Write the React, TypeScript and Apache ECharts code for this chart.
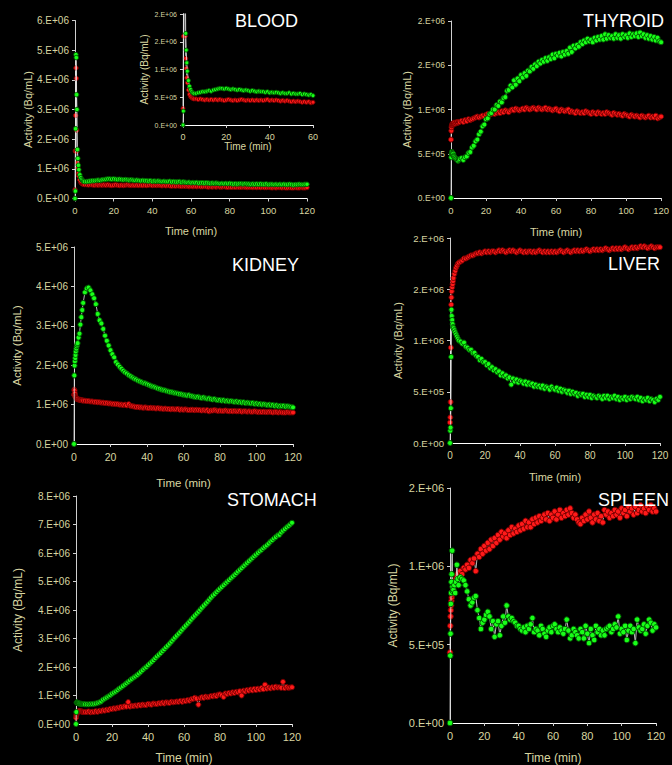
import React, { useEffect, useRef } from "react";
import * as echarts from "echarts";

// Frame mid-times (min)
const TIME_MIN = [
  0, 0.17, 0.33, 0.5, 0.67, 0.83, 1, 1.25, 1.5, 1.75, 2, 2.5, 3, 3.5, 4, 4.5, 5,
  6, 7, 8, 9, 10, 11, 12, 13, 14, 15,
  16, 17, 18, 19, 20, 21, 22, 23, 24, 25,
  26, 27, 28, 29, 30, 31, 32, 33, 34, 35,
  36, 37, 38, 39, 40, 41, 42, 43, 44, 45,
  46, 47, 48, 49, 50, 51, 52, 53, 54, 55,
  56, 57, 58, 59, 60, 61, 62, 63, 64, 65,
  66, 67, 68, 69, 70, 71, 72, 73, 74, 75,
  76, 77, 78, 79, 80, 81, 82, 83, 84, 85,
  86, 87, 88, 89, 90, 91, 92, 93, 94, 95,
  96, 97, 98, 99, 100, 101, 102, 103, 104, 105,
  106, 107, 108, 109, 110, 111, 112, 113, 114, 115,
  116, 117, 118, 119, 120,
];

// Activity values in units of 1e4 Bq/mL
const BLOOD_GREEN = [
  0, 25, 235, 485, 475, 350, 300, 165, 135, 112, 97, 80, 70, 64, 60, 58, 57,
  57, 58, 59, 60, 60, 61, 62, 61, 63, 64,
  65, 66, 66, 65, 66, 65, 64, 65, 64, 63,
  64, 63, 62, 63, 62, 61, 62, 61, 60, 61,
  60, 60, 59, 60, 58, 59, 58, 59, 58, 57,
  58, 57, 57, 58, 56, 57, 56, 56, 57, 55,
  56, 55, 54, 55, 53, 54, 53, 54, 52, 53,
  53, 52, 53, 52, 51, 52, 51, 52, 51, 50,
  51, 50, 51, 50, 51, 50, 49, 50, 49, 50,
  50, 49, 50, 49, 49, 48, 49, 48, 49, 48,
  49, 48, 48, 49, 47, 48, 48, 47, 48, 47,
  48, 47, 48, 47, 47, 48, 47, 46, 47, 47,
  48, 47, 47, 48, 48,
];
const BLOOD_RED = [
  30, 160, 280, 440, 405, 230, 160, 120, 102, 85, 76, 63, 55, 51, 49, 48, 47,
  47, 46, 47, 46, 45, 46, 45, 46, 45, 46,
  45, 46, 45, 44, 45, 46, 45, 44, 45, 44,
  45, 46, 45, 44, 45, 44, 45, 44, 45, 44,
  45, 44, 45, 46, 44, 45, 44, 45, 44, 43,
  44, 43, 44, 43, 42, 43, 42, 43, 42, 41,
  42, 41, 42, 40, 41, 40, 41, 40, 41, 40,
  40, 41, 40, 39, 40, 39, 40, 39, 40, 39,
  39, 40, 39, 38, 39, 38, 39, 38, 39, 38,
  38, 39, 38, 37, 38, 38, 37, 38, 37, 38,
  37, 38, 37, 37, 38, 37, 36, 37, 36, 37,
  37, 36, 37, 36, 36, 37, 36, 36, 37, 36,
  36, 37, 36, 36, 37,
];
const THYROID_GREEN = [
  0, 46, 50, 52, 51, 50, 49, 50, 48, 47, 46, 45, 44, 43, 42, 43, 44,
  45, 43, 46, 47, 51, 52, 57, 59, 64, 66,
  72, 75, 81, 83, 89, 90, 95, 96, 100, 100,
  105, 104, 109, 108, 113, 114, 121, 122, 127, 125,
  133, 128, 135, 132, 139, 136, 141, 138, 144, 143,
  148, 146, 151, 149, 154, 152, 156, 154, 158, 155,
  159, 157, 162, 158, 163, 161, 164, 160, 165, 162,
  166, 163, 170, 165, 172, 169, 173, 171, 176, 174,
  178, 176, 180, 177, 179, 176, 181, 178, 182, 179,
  183, 179, 185, 180, 184, 181, 183, 180, 185, 181,
  184, 180, 185, 182, 184, 181, 186, 182, 185, 183,
  186, 182, 187, 183, 185, 181, 184, 180, 183, 179,
  182, 178, 181, 177, 176,
];
const THYROID_RED = [
  66, 76, 80, 82, 83, 84, 83, 84, 85, 84, 85, 84, 85, 86, 85, 86, 86,
  87, 86, 88, 87, 89, 88, 89, 90, 91, 92,
  91, 92, 93, 92, 94, 95, 94, 95, 96, 95,
  96, 97, 96, 98, 97, 99, 98, 97, 99, 100,
  99, 101, 100, 99, 100, 101, 100, 102, 101, 100,
  101, 102, 101, 100, 102, 101, 100, 101, 102, 100,
  101, 100, 99, 100, 101, 99, 98, 100, 99, 98,
  99, 100, 97, 98, 97, 96, 98, 97, 96, 97,
  96, 98, 97, 96, 95, 97, 96, 95, 97, 96,
  95, 96, 95, 97, 96, 95, 94, 96, 95, 94,
  95, 94, 93, 95, 94, 93, 92, 94, 93, 92,
  93, 92, 91, 93, 92, 91, 92, 93, 91, 92,
  91, 93, 90, 91, 92,
];
const KIDNEY_GREEN = [
  0, 174, 199, 210, 218, 226, 235, 242, 248, 252, 256, 270, 280, 303, 322, 340, 358,
  385, 395, 397, 390, 380, 370, 355, 330, 314, 306,
  292, 275, 262, 250, 238, 228, 220, 208, 202, 196,
  191, 186, 182, 179, 175, 172, 169, 166, 164, 161,
  159, 157, 155, 154, 152, 150, 148, 146, 145, 143,
  141, 140, 138, 137, 136, 134, 133, 132, 131, 130,
  129, 128, 127, 126, 125, 124, 123, 124, 122, 121,
  120, 119, 120, 118, 117, 118, 116, 115, 116, 114,
  113, 114, 112, 111, 112, 110, 111, 109, 110, 108,
  109, 108, 107, 108, 106, 107, 105, 106, 104, 105,
  104, 103, 104, 102, 103, 101, 102, 100, 101, 100,
  99, 100, 98, 99, 97, 98, 96, 97, 96, 97,
  95, 96, 95, 94, 93,
];
const KIDNEY_RED = [
  125, 138, 135, 128, 122, 119, 118, 116, 115, 114, 114, 113, 112, 112, 111, 111, 110,
  110, 109, 109, 108, 108, 107, 107, 106, 106, 105,
  105, 104, 104, 103, 103, 102, 102, 101, 101, 100,
  100, 99, 100, 98, 101, 97, 96, 95, 94, 94,
  93, 93, 92, 93, 92, 91, 92, 91, 91, 90,
  91, 90, 90, 89, 90, 89, 89, 88, 89, 88,
  88, 89, 87, 88, 87, 88, 87, 86, 87, 87,
  86, 87, 86, 86, 85, 86, 85, 86, 83, 85,
  85, 86, 85, 84, 85, 84, 84, 85, 84, 83,
  84, 83, 84, 83, 83, 84, 82, 83, 83, 82,
  83, 82, 82, 83, 82, 81, 82, 81, 82, 81,
  81, 82, 81, 80, 81, 81, 80, 81, 80, 80,
  80, 81, 80, 80, 80,
];
const LIVER_GREEN = [
  0, 12, 15, 34, 84, 130, 124, 120, 116, 113, 112, 110, 108, 106, 104, 102, 100,
  99, 97, 98, 94, 93, 91, 91, 88, 88, 85,
  84, 81, 82, 79, 79, 76, 77, 73, 74, 71,
  72, 69, 70, 66, 68, 65, 66, 63, 64, 57,
  63, 60, 62, 59, 61, 60, 58, 60, 57, 59,
  57, 58, 55, 57, 55, 56, 54, 56, 53, 55,
  54, 52, 55, 53, 52, 54, 51, 53, 50, 52,
  51, 49, 51, 48, 50, 48, 49, 46, 48, 47,
  48, 45, 47, 45, 47, 44, 46, 45, 44, 46,
  45, 43, 46, 44, 46, 43, 45, 44, 46, 43,
  45, 42, 44, 43, 45, 42, 44, 43, 45, 44,
  43, 45, 42, 44, 41, 43, 42, 44, 41, 43,
  42, 40, 43, 42, 45,
];
const LIVER_RED = [
  20, 25, 40, 93, 135, 142, 148, 152, 155, 158, 161, 165, 168, 171, 173, 175, 176,
  177, 178, 180, 180, 181, 182, 183, 183, 184, 185,
  185, 186, 185, 186, 187, 186, 187, 186, 187, 187,
  186, 187, 188, 187, 188, 187, 186, 187, 188, 187,
  188, 187, 186, 187, 188, 187, 186, 187, 186, 187,
  187, 186, 187, 186, 187, 188, 187, 186, 187, 186,
  187, 186, 187, 186, 187, 186, 187, 188, 187, 186,
  187, 188, 187, 186, 187, 188, 187, 188, 187, 188,
  187, 188, 189, 188, 187, 188, 189, 188, 189, 188,
  189, 188, 189, 190, 189, 188, 189, 190, 189, 190,
  189, 190, 189, 190, 191, 190, 189, 190, 191, 190,
  191, 190, 191, 192, 191, 192, 191, 190, 191, 192,
  191, 190, 191, 191, 191,
];
const STOMACH_GREEN = [
  0, 42, 75, 76, 75, 74, 74, 73, 73, 72, 72, 71, 71, 70, 70, 70, 69,
  69, 69, 70, 70, 71, 72, 74, 76, 79, 85,
  89, 93, 97, 101, 106, 110, 114, 119, 124, 128,
  133, 138, 143, 148, 153, 158, 163, 167, 172, 177,
  183, 189, 195, 200, 206, 212, 218, 224, 231, 237,
  243, 249, 256, 262, 269, 275, 282, 289, 296, 303,
  310, 317, 324, 331, 338, 345, 352, 359, 366, 373,
  380, 387, 394, 401, 408, 415, 422, 429, 436, 443,
  450, 456, 463, 469, 475, 481, 487, 493, 499, 505,
  511, 517, 523, 529, 535, 541, 547, 553, 559, 565,
  571, 577, 583, 589, 594, 600, 606, 611, 617, 622,
  627, 633, 640, 645, 651, 656, 662, 664, 672, 678,
  684, 690, 695, 700, 706,
];
const STOMACH_RED = [
  22, 30, 35, 38, 40, 42, 43, 44, 45, 45, 46, 45, 44, 43, 42, 42, 42,
  42, 44, 41, 43, 42, 45, 43, 46, 45, 48,
  47, 50, 49, 53, 52, 55, 54, 57, 57, 60,
  59, 62, 61, 77, 61, 64, 63, 65, 64, 67,
  65, 68, 67, 66, 70, 69, 68, 72, 71, 70,
  73, 72, 75, 72, 76, 75, 74, 78, 76, 77,
  79, 78, 81, 78, 82, 80, 84, 82, 87, 88,
  92, 89, 68, 91, 94, 92, 96, 94, 95, 98,
  97, 100, 98, 103, 104, 101, 95, 107, 105, 109,
  107, 111, 109, 113, 111, 115, 100, 117, 114, 119,
  117, 121, 118, 123, 119, 124, 121, 126, 122, 138,
  124, 128, 125, 129, 127, 131, 128, 129, 127, 148,
  126, 130, 127, 128, 129,
];
const SPLEEN_GREEN = [
  0, 43, 57, 76, 83, 90, 95, 110, 87, 84, 85, 88, 83, 90, 101, 92, 88,
  93, 92, 91, 88, 84, 79, 75, 77, 80, 81,
  72, 67, 60, 64, 66, 69, 71, 68, 60, 65,
  55, 63, 65, 56, 62, 68, 64, 75, 68, 66,
  67, 65, 64, 62, 62, 60, 59, 61, 58, 62,
  60, 63, 67, 58, 60, 59, 56, 62, 60, 57,
  55, 59, 61, 58, 62, 63, 60, 58, 61, 59,
  57, 60, 66, 59, 54, 56, 60, 58, 56, 54,
  60, 58, 54, 62, 57, 51, 60, 56, 53, 62,
  58, 60, 56, 59, 56, 60, 61, 62, 58, 60,
  63, 61, 68, 57, 60, 58, 62, 53, 59, 62,
  58, 60, 51, 66, 61, 59, 60, 63, 57, 62,
  66, 64, 59, 63, 61,
];
const SPLEEN_RED = [
  45, 62, 68, 72, 75, 78, 80, 82, 84, 86, 88, 90, 91, 92, 94, 95, 96,
  97, 95, 99, 98, 101, 99, 104, 102, 105, 97,
  108, 106, 111, 108, 113, 110, 115, 111, 117, 113,
  118, 115, 120, 117, 122, 119, 121, 118, 123, 120,
  125, 121, 124, 122, 126, 123, 127, 124, 129, 125,
  128, 125, 130, 127, 131, 128, 132, 129, 131, 133,
  130, 134, 129, 133, 131, 135, 130, 133, 136, 131,
  134, 132, 136, 133, 137, 134, 131, 133, 130, 128,
  127, 131, 129, 133, 130, 135, 131, 128, 133, 130,
  134, 129, 132, 128, 136, 133, 135, 131, 134, 132,
  136, 133, 135, 131, 137, 134, 136, 132, 138, 135,
  137, 133, 138, 134, 136, 139, 135, 137, 134, 138,
  136, 139, 135, 137, 135,
];

const UNIT = 1e4;

// Tick labels as printed on the original axes
const BLOOD_Y_LABELS = ["0.E+00", "1.E+06", "2.E+06", "3.E+06", "4.E+06", "5.E+06", "6.E+06"];
const HALF_Y_LABELS = ["0.E+00", "5.E+05", "1.E+06", "2.E+06", "2.E+06"];
const KIDNEY_Y_LABELS = ["0.E+00", "1.E+06", "2.E+06", "3.E+06", "4.E+06", "5.E+06"];
const STOMACH_Y_LABELS = ["0.E+00", "1.E+06", "2.E+06", "3.E+06", "4.E+06", "5.E+06", "6.E+06", "7.E+06", "8.E+06"];
const SPLEEN_Y_LABELS = ["0.E+00", "5.E+05", "1.E+06", "2.E+06"];

const TITLES = ["BLOOD", "THYROID", "KIDNEY", "LIVER", "STOMACH", "SPLEEN"];

const FONT = '"Liberation Sans", Arial, Helvetica, sans-serif';
const LABEL_COLOR = "#d8d6a0";
const AXIS_COLOR = "#cfcfcf";

type Panel = {
  grid: { left: number; top: number; width: number; height: number };
  xMax: number;
  yMax: number;
  yInt: number;
  yLabels: string[];
  green: number[];
  red: number[];
  yl: number;
  xl: number;
  nameSize: number;
  yNameGap: number;
  xNameGap: number;
  sym: number;
};

const PANELS: Panel[] = [
  { grid: { left: 75, top: 20.5, width: 232, height: 178 }, xMax: 120, yMax: 6e6, yInt: 1e6, yLabels: BLOOD_Y_LABELS, green: BLOOD_GREEN, red: BLOOD_RED, yl: 10, xl: 9.5, nameSize: 11, yNameGap: 42, xNameGap: 27, sym: 4.5 },
  { grid: { left: 183, top: 14, width: 130, height: 111 }, xMax: 60, yMax: 2e6, yInt: 5e5, yLabels: HALF_Y_LABELS, green: BLOOD_GREEN, red: BLOOD_RED, yl: 7, xl: 9, nameSize: 10, yNameGap: 34, xNameGap: 16, sym: 4 },
  { grid: { left: 451, top: 21, width: 213, height: 177 }, xMax: 120, yMax: 2e6, yInt: 5e5, yLabels: HALF_Y_LABELS, green: THYROID_GREEN, red: THYROID_RED, yl: 8.5, xl: 9.5, nameSize: 11, yNameGap: 39, xNameGap: 28, sym: 5 },
  { grid: { left: 74, top: 247, width: 219, height: 197 }, xMax: 120, yMax: 5e6, yInt: 1e6, yLabels: KIDNEY_Y_LABELS, green: KIDNEY_GREEN, red: KIDNEY_RED, yl: 10, xl: 10.5, nameSize: 11.5, yNameGap: 51, xNameGap: 33, sym: 5 },
  { grid: { left: 450, top: 238, width: 210, height: 205 }, xMax: 120, yMax: 2e6, yInt: 5e5, yLabels: HALF_Y_LABELS, green: LIVER_GREEN, red: LIVER_RED, yl: 9.6, xl: 10, nameSize: 11, yNameGap: 47, xNameGap: 28, sym: 5 },
  { grid: { left: 76, top: 496, width: 216, height: 228 }, xMax: 120, yMax: 8e6, yInt: 1e6, yLabels: STOMACH_Y_LABELS, green: STOMACH_GREEN, red: STOMACH_RED, yl: 10, xl: 11, nameSize: 12, yNameGap: 52, xNameGap: 28, sym: 5 },
  { grid: { left: 450, top: 488, width: 206, height: 236 }, xMax: 120, yMax: 1.5e6, yInt: 5e5, yLabels: SPLEEN_Y_LABELS, green: SPLEEN_GREEN, red: SPLEEN_RED, yl: 11, xl: 11, nameSize: 12, yNameGap: 51, xNameGap: 29, sym: 5.5 },
];

const TITLE_POS = [
  { x: 235, y: 21 },
  { x: 583, y: 21 },
  { x: 232, y: 265 },
  { x: 608, y: 264 },
  { x: 227, y: 500 },
  { x: 598, y: 500 },
];

function toPairs(vals: number[]) {
  const n = Math.min(vals.length, TIME_MIN.length);
  const out: number[][] = [];
  for (let i = 0; i < n; i++) out.push([TIME_MIN[i], vals[i] * UNIT]);
  return out;
}

function buildOption() {
  const grid: any[] = [];
  const xAxis: any[] = [];
  const yAxis: any[] = [];
  const series: any[] = [];
  PANELS.forEach((p, i) => {
    grid.push({ ...p.grid, containLabel: false });
    xAxis.push({
      type: "value",
      gridIndex: i,
      min: 0,
      max: p.xMax,
      interval: 20,
      name: "Time (min)",
      nameLocation: "middle",
      nameGap: p.xNameGap,
      nameTextStyle: { color: LABEL_COLOR, fontSize: p.nameSize, fontFamily: FONT },
      axisLine: { show: true, onZero: false, lineStyle: { color: "#ffffff", width: 1 } },
      axisTick: { show: true, length: 3, lineStyle: { color: AXIS_COLOR } },
      axisLabel: { color: LABEL_COLOR, fontSize: p.xl, fontFamily: FONT, margin: 7 },
      splitLine: { show: false },
    });
    yAxis.push({
      type: "value",
      gridIndex: i,
      min: 0,
      max: p.yMax,
      interval: p.yInt,
      name: "Activity (Bq/mL)",
      nameLocation: "middle",
      nameGap: p.yNameGap,
      nameTextStyle: { color: LABEL_COLOR, fontSize: p.nameSize, fontFamily: FONT },
      axisLine: { show: true, onZero: false, lineStyle: { color: AXIS_COLOR, width: 1 } },
      axisTick: { show: true, length: 3, lineStyle: { color: AXIS_COLOR } },
      axisLabel: {
        color: LABEL_COLOR,
        fontSize: p.yl,
        fontFamily: FONT,
        margin: 6,
        formatter: (v: number) => p.yLabels[Math.round(v / p.yInt)] ?? "",
      },
      splitLine: { show: false },
    });
    const common = {
      type: "line",
      xAxisIndex: i,
      yAxisIndex: i,
      symbol: "circle",
      showSymbol: true,
      showAllSymbol: true,
      clip: true,
      lineStyle: { color: "#e6e6e6", width: 0.8 },
      emphasis: { disabled: true },
    };
    series.push({
      ...common,
      name: "red-" + i,
      symbolSize: p.sym,
      z: 2,
      itemStyle: { color: "#ff1a1a", borderColor: "#780000", borderWidth: 1 },
      data: toPairs(p.red),
    });
    series.push({
      ...common,
      name: "green-" + i,
      symbolSize: p.sym,
      z: 3,
      itemStyle: { color: "#19ff19", borderColor: "#005a00", borderWidth: 1 },
      data: toPairs(p.green),
    });
  });

  const graphic = TITLES.map((t, i) => ({
    type: "text",
    x: TITLE_POS[i].x,
    y: TITLE_POS[i].y,
    z: 10,
    style: {
      text: t,
      fill: "#ffffff",
      font: `18px ${FONT}`,
      textAlign: "left",
      textVerticalAlign: "middle",
    },
  }));

  return {
    animation: false,
    backgroundColor: "#000000",
    grid,
    xAxis,
    yAxis,
    series,
    graphic,
  };
}

export default function App() {
  const ref = useRef<HTMLDivElement>(null);
  useEffect(() => {
    if (!ref.current) return;
    const chart = echarts.init(ref.current, undefined, { renderer: "svg" });
    chart.setOption(buildOption() as any);
    return () => chart.dispose();
  }, []);
  return (
    <div
      ref={ref}
      style={{ position: "absolute", left: 0, top: 0, width: 672, height: 765, background: "#000" }}
    />
  );
}
